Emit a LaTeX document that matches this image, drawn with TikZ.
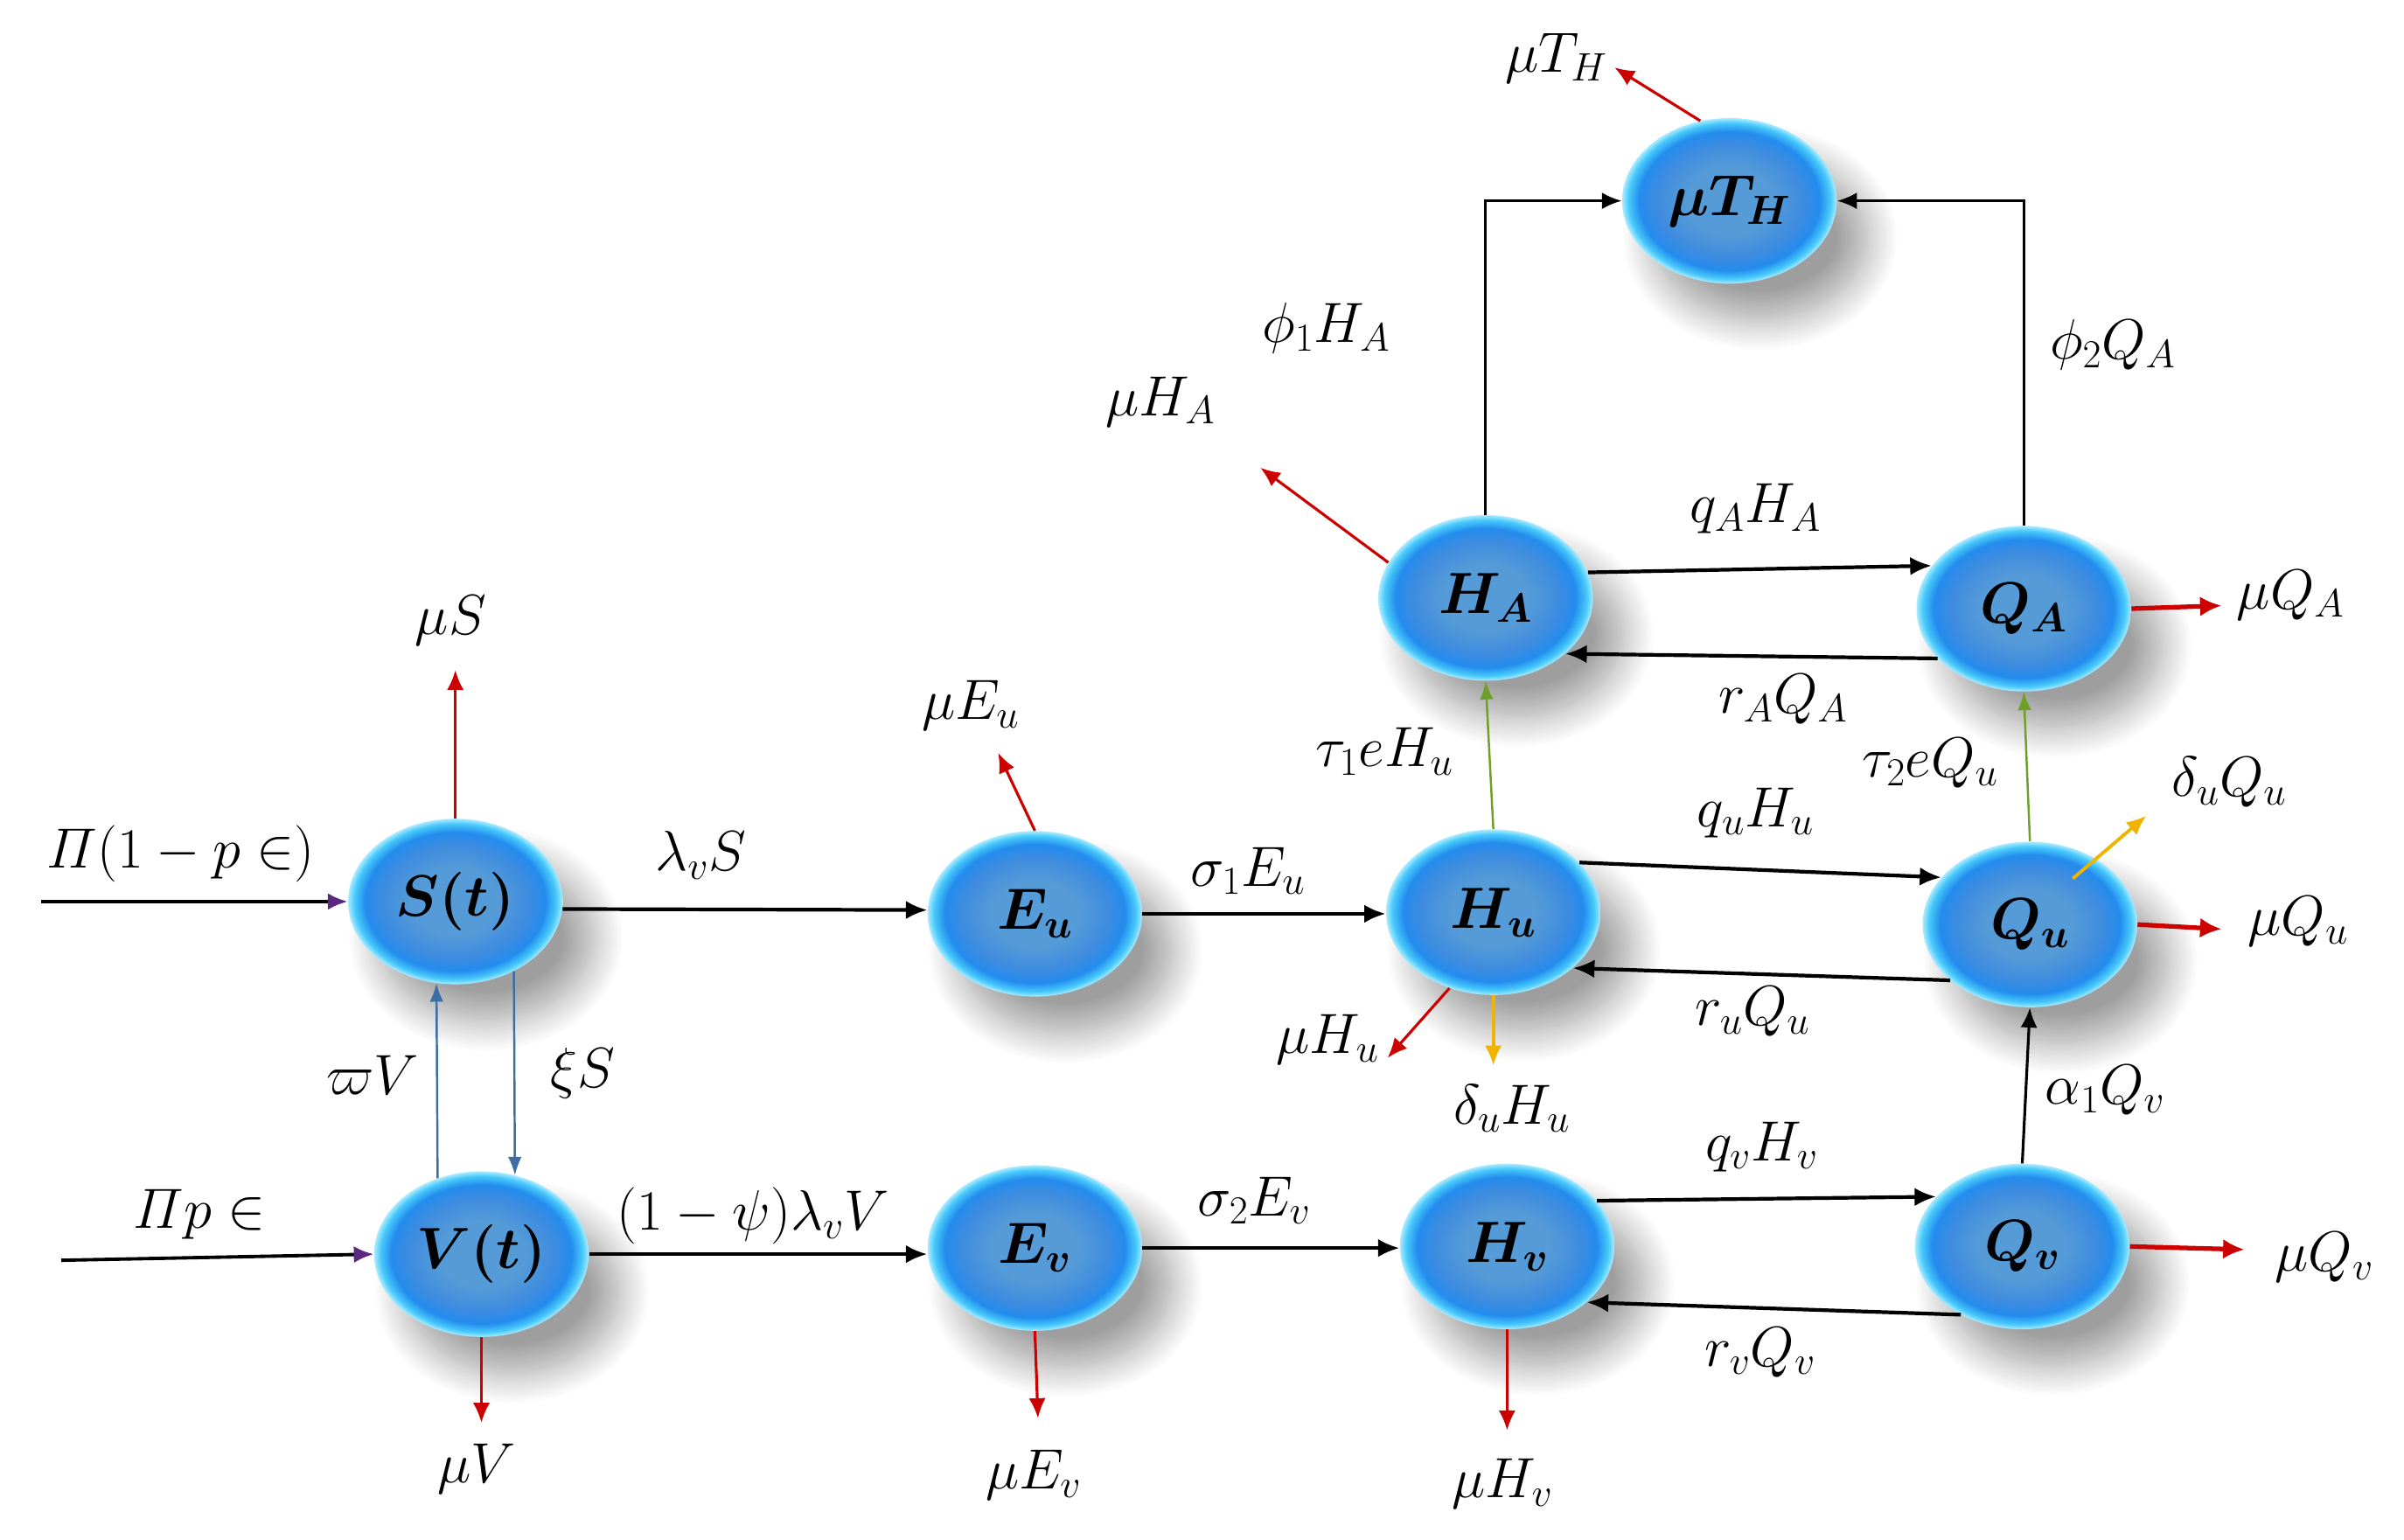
\RequirePackage{fix-cm}
\documentclass[tikz,border=0pt]{standalone}
\usepackage{amsmath}
\usepackage{bm}
\usetikzlibrary{shapes.geometric,arrows.meta,calc,shadows.blur}
\definecolor{bA}{RGB}{84,155,215}
\definecolor{bB}{RGB}{62,140,224}
\definecolor{bC}{RGB}{35,140,238}
\definecolor{bD}{RGB}{70,200,250}
\definecolor{bE}{RGB}{170,235,255}
\definecolor{flred}{RGB}{205,0,0}
\definecolor{flgreen}{RGB}{110,160,40}
\definecolor{flyellow}{RGB}{240,180,0}
\definecolor{flblue}{RGB}{60,110,165}
\definecolor{flpurple}{RGB}{90,40,130}
\pgfdeclareradialshading{blob}{\pgfpoint{0bp}{0bp}}{color(0bp)=(bA); color(10bp)=(bA); color(17bp)=(bB); color(21bp)=(bC); color(23.5bp)=(bD); color(25bp)=(bE); color(50bp)=(bE)}
\tikzset{
  comp/.style={ellipse, minimum width=140pt, minimum height=108pt, inner sep=0pt,
    shade, shading=blob,
    blur shadow={shadow xshift=20pt, shadow yshift=-24pt, shadow blur radius=20pt, shadow blur steps=20, shadow opacity=38},
    font=\fontsize{38}{44}\selectfont},
  lab/.style={font=\fontsize{37}{43}\selectfont, inner sep=0pt},
  blk/.style={draw=black, line width=2.4pt, -{Latex[length=14pt,width=12pt]}},
  thinblk/.style={draw=black, line width=1.8pt, -{Latex[length=13pt,width=11pt]}},
  rd/.style={draw=flred, line width=1.8pt, -{Latex[length=13pt,width=11pt]}},
  rdthick/.style={draw=flred, line width=3pt, -{Latex[length=14pt,width=13pt]}},
  gr/.style={draw=flgreen, line width=1.4pt, -{Latex[length=12pt,width=9pt]}},
  yl/.style={draw=flyellow, line width=2.2pt, -{Latex[length=13pt,width=11pt]}},
  bl/.style={draw=flblue, line width=1.4pt, -{Latex[length=12pt,width=9pt]}},
  inflow/.style={draw=black, line width=2.2pt, -{Latex[length=13pt,width=11pt,color=flpurple]}},
}
\begin{document}
\begin{tikzpicture}[x=1pt,y=-1pt]
\useasboundingbox (0,0) rectangle (1568,1004);

% compartments
\node[comp] (S)  at (297,588)  {$\bm{S(t)}$};
\node[comp] (V)  at (314,818)  {$\bm{V(t)}$};
\node[comp] (Eu) at (675,596)  {$\bm{E_u}$};
\node[comp] (Ev) at (675,814)  {$\bm{E_v}$};
\node[comp] (Hu) at (974,595)  {$\bm{H_u}$};
\node[comp] (HA) at (969,390)  {$\bm{H_A}$};
\node[comp] (Hv) at (983,813)  {$\bm{H_v}$};
\node[comp] (QA) at (1320,397) {$\bm{Q_A}$};
\node[comp] (Qu) at (1324,603) {$\bm{Q_u}$};
\node[comp] (Qv) at (1319,813) {$\bm{Q_v}$};
\node[comp] (TH) at (1128,131) {$\bm{\mu T_H}$};

% free ends
\coordinate (in1) at (27,588);
\coordinate (in2) at (40,822);
\coordinate (mS) at (297,437);
\coordinate (mV) at (314,928);
\coordinate (mEu) at (651,491);
\coordinate (mEv) at (677,925);
\coordinate (mHu) at (905,690);
\coordinate (dHu) at (974,695);
\coordinate (mHv) at (983,933);
\coordinate (mHA) at (822,305);
\coordinate (mTH) at (1053,44);
\coordinate (mQA) at (1449,395);
\coordinate (mQu) at (1449,606);
\coordinate (mQv) at (1464,815);
\coordinate (dQu) at (1400,532);

% connectors
\draw[inflow] (in1) -- (S.west);
\draw[inflow] (in2) -- (V.west);
\draw[rd] (S.north) -- (mS);
\draw[rd] (V.south) -- (mV);
\draw[bl] (V.120) -- (S.-103);
\draw[bl] (S.-50) -- (V.67);
\draw[blk] (S.-4) -- (Eu.178);
\draw[blk] (V.east) -- (V.east -| Ev.west);
\draw[rd] (Eu.north) -- (mEu);
\draw[rd] (Ev.south) -- (mEv);
\draw[blk] (Eu.east) -- (Eu.east -| Hu.west);
\draw[blk] (Ev.east) -- (Ev.east -| Hv.west);
\draw[gr] (Hu.north) -- (HA.south);
\draw[gr] (Qu.north) -- (QA.south);
\draw[rd] (Hu.-120) -- (mHu);
\draw[yl] (Hu.south) -- (dHu);
\draw[rd] (Hv.south) -- (mHv);
\draw[blk] (Hu.30) -- (Qu.152);
\draw[blk] (Qu.215) -- (Hu.-35);
\draw[blk] (HA.14) -- (QA.155);
\draw[blk] (QA.210) -- (HA.-35);
\draw[blk] (Hv.27) -- (Qv.150);
\draw[blk] (Qv.228) -- (Hv.-35);
\draw[thinblk] (Qv.north) -- (Qu.south);
\draw[yl] ($(Qu.center)+(28,-30)$) -- (dQu);
\draw[rdthick] (Qu.east) -- (mQu);
\draw[rdthick] (Qv.east) -- (mQv);
\draw[rdthick] (QA.east) -- (mQA);
\draw[rd] (HA.160) -- (mHA);
\draw[thinblk] (HA.north) |- (TH.west);
\draw[thinblk] (QA.north) |- (TH.east);
\draw[rd] (TH.110) -- (mTH);

% labels
\node[lab] (l1)  at (118,557)  {$\varPi(1-p\in)$};
\node[lab] (l2)  at (294,405)  {$\mu S$};
\node[lab] (l3)  at (457,558)  {$\lambda_v S$};
\node[lab] (l4)  at (243,701)  {$\varpi V$};
\node[lab] (l5)  at (380,700)  {$\xi S$};
\node[lab] (l6)  at (130,792)  {$\varPi p\in$};
\node[lab] (l7)  at (491,793)  {$(1-\psi)\lambda_v V$};
\node[lab] (l8)  at (311,958)  {$\mu V$};
\node[lab] (l9)  at (633,460)  {$\mu E_u$};
\node[lab] (l10) at (814,568)  {$\sigma_1 E_u$};
\node[lab] (l11) at (818,783)  {$\sigma_2 E_v$};
\node[lab] (l12) at (674,962)  {$\mu E_v$};
\node[lab] (l13) at (980,968)  {$\mu H_v$};
\node[lab] (l14) at (1149,748) {$q_v H_v$};
\node[lab] (l15) at (1148,882) {$r_v Q_v$};
\node[lab] (l16) at (1516,820) {$\mu Q_v$};
\node[lab] (l17) at (1373,711) {$\alpha_1 Q_v$};
\node[lab] (l18) at (986,723)  {$\delta_u H_u$};
\node[lab] (l19) at (866,678)  {$\mu H_u$};
\node[lab] (l20) at (1145,332) {$q_A H_A$};
\node[lab] (l21) at (1163,456) {$r_A Q_A$};
\node[lab] (l22) at (903,490)  {$\tau_1 e H_u$};
\node[lab] (l23) at (1259,498) {$\tau_2 e Q_u$};
\node[lab] (l24) at (1145,530) {$q_u H_u$};
\node[lab] (l25) at (1454,510) {$\delta_u Q_u$};
\node[lab] (l26) at (1494,388) {$\mu Q_A$};
\node[lab] (l27) at (1499,601) {$\mu Q_u$};
\node[lab] (l28) at (1143,660) {$r_u Q_u$};
\node[lab] (l29) at (865,214)  {$\phi_1 H_A$};
\node[lab] (l30) at (757,262)  {$\mu H_A$};
\node[lab] (l31) at (1378,225) {$\phi_2 Q_A$};
\node[lab] (l32) at (1015,38)  {$\mu T_H$};
\end{tikzpicture}
\end{document}
